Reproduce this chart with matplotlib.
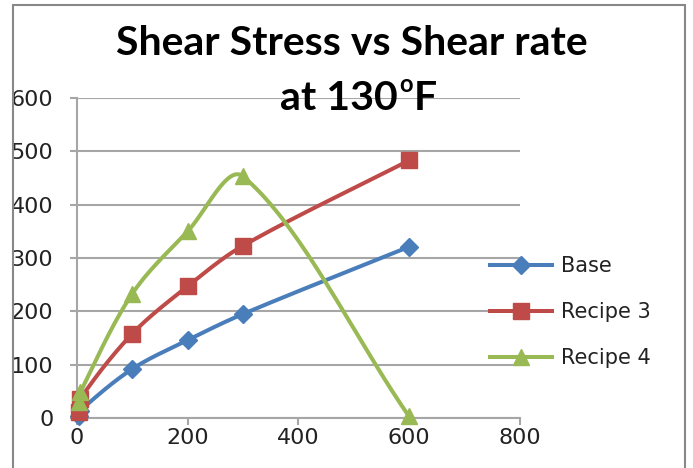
import numpy as np
import matplotlib
matplotlib.use('Agg')
from matplotlib import pyplot as plt
from matplotlib.patches import Rectangle

# shear rate (rpm) and stress readings
rate = [3, 6, 100, 200, 300, 600]
base = [3, 14, 92, 146, 195, 321]
recipe3 = [12, 36, 158, 247, 323, 483]
recipe4 = [30, 48, 233, 350, 453, 3]

names = ['Base', 'Recipe 3', 'Recipe 4']
colors = ['#4A7EBB', '#BE4B48', '#98B954']
markers = ['D', 's', '^']
msizes = [9, 12, 11]


def smooth(xs, ys, n=40):
    # excel-ish smoothed line, chord-length weighted bezier in pixel-like units
    sx, sy = 0.5545, 0.533
    p = np.column_stack([np.array(xs) * sx, np.array(ys) * sy]).astype(float)
    p = np.vstack([p[0], p, p[-1]])
    out = []
    for i in range(1, len(p) - 2):
        p0, p1, p2, p3 = p[i - 1], p[i], p[i + 1], p[i + 2]
        d01 = np.hypot(*(p1 - p0))
        d12 = np.hypot(*(p2 - p1))
        d23 = np.hypot(*(p3 - p2))
        c1 = p1 + (p2 - p0) * d12 / max(d01 + d12, 1e-9) / 3
        c2 = p2 - (p3 - p1) * d12 / max(d12 + d23, 1e-9) / 3
        t = np.linspace(0, 1, n)[:, None]
        seg = ((1 - t) ** 3 * p1 + 3 * (1 - t) ** 2 * t * c1
               + 3 * (1 - t) * t ** 2 * c2 + t ** 3 * p2)
        out.append(seg)
    out = np.vstack(out)
    return out[:, 0] / sx, out[:, 1] / sy


fig = plt.figure(figsize=(6.93, 4.68), dpi=100)
ax = fig.add_axes([0.111, 0.1068, 0.639, 0.6838])

for ys, nm, c, m, ms in zip([base, recipe3, recipe4], names, colors, markers, msizes):
    sx, sy = smooth(rate, ys)
    ax.plot(sx, sy, color=c, lw=2.9, solid_capstyle='round', zorder=3, clip_on=False)
    ax.plot(rate, ys, ls='none', marker=m, ms=ms, color=c, zorder=4, clip_on=False)
    ax.plot([], [], color=c, lw=2.9, marker=m, ms=ms, label=nm)

ax.set_xlim(0, 800)
ax.set_ylim(0, 600)
ax.set_xticks([0, 200, 400, 600, 800])
ax.set_yticks([0, 100, 200, 300, 400, 500, 600])
ax.grid(axis='y', color='#A6A6A6', lw=1.5)
ax.set_axisbelow(True)
for s in ['top', 'right']:
    ax.spines[s].set_visible(False)
for s in ['left', 'bottom']:
    ax.spines[s].set_color('#A6A6A6')
    ax.spines[s].set_linewidth(1.5)
ax.tick_params(colors='#A6A6A6', width=1.5, length=5, labelcolor='#222222',
               labelsize=16)
ax.tick_params(axis='y', pad=12)
ax.tick_params(axis='x', pad=2)

tfont = dict(fontsize=29.5, fontweight='bold', family='Lato')
fig.text(0.508, 0.882, 'Shear Stress vs Shear rate', ha='center', va='baseline', **tfont)
t1 = fig.text(280 / 693, 0.765, 'at 130', ha='left', va='baseline', **tfont)
sup = ax.annotate('o', xy=(1, 0), xycoords=t1, xytext=(1, 18),
                  textcoords='offset points', ha='left', va='baseline',
                  fontsize=17, fontweight='bold', family='Lato',
                  annotation_clip=False)
ax.annotate('F', xy=(1, 0), xycoords=(sup, t1), xytext=(1, 0),
            textcoords='offset points', ha='left', va='bottom',
            annotation_clip=False, **tfont)

fig.legend(loc='center left', bbox_to_anchor=(0.707, 0.333), frameon=False,
           handlelength=3.0, labelspacing=1.25, fontsize=15, borderpad=0,
           borderaxespad=0, handletextpad=0.4, labelcolor='#222222')

fig.add_artist(Rectangle((13 / 693, -0.05), 672 / 693, 1 - 5 / 468 + 0.05,
                         transform=fig.transFigure, fill=False,
                         edgecolor='#888888', lw=1.5))

fig.savefig('out.png')
